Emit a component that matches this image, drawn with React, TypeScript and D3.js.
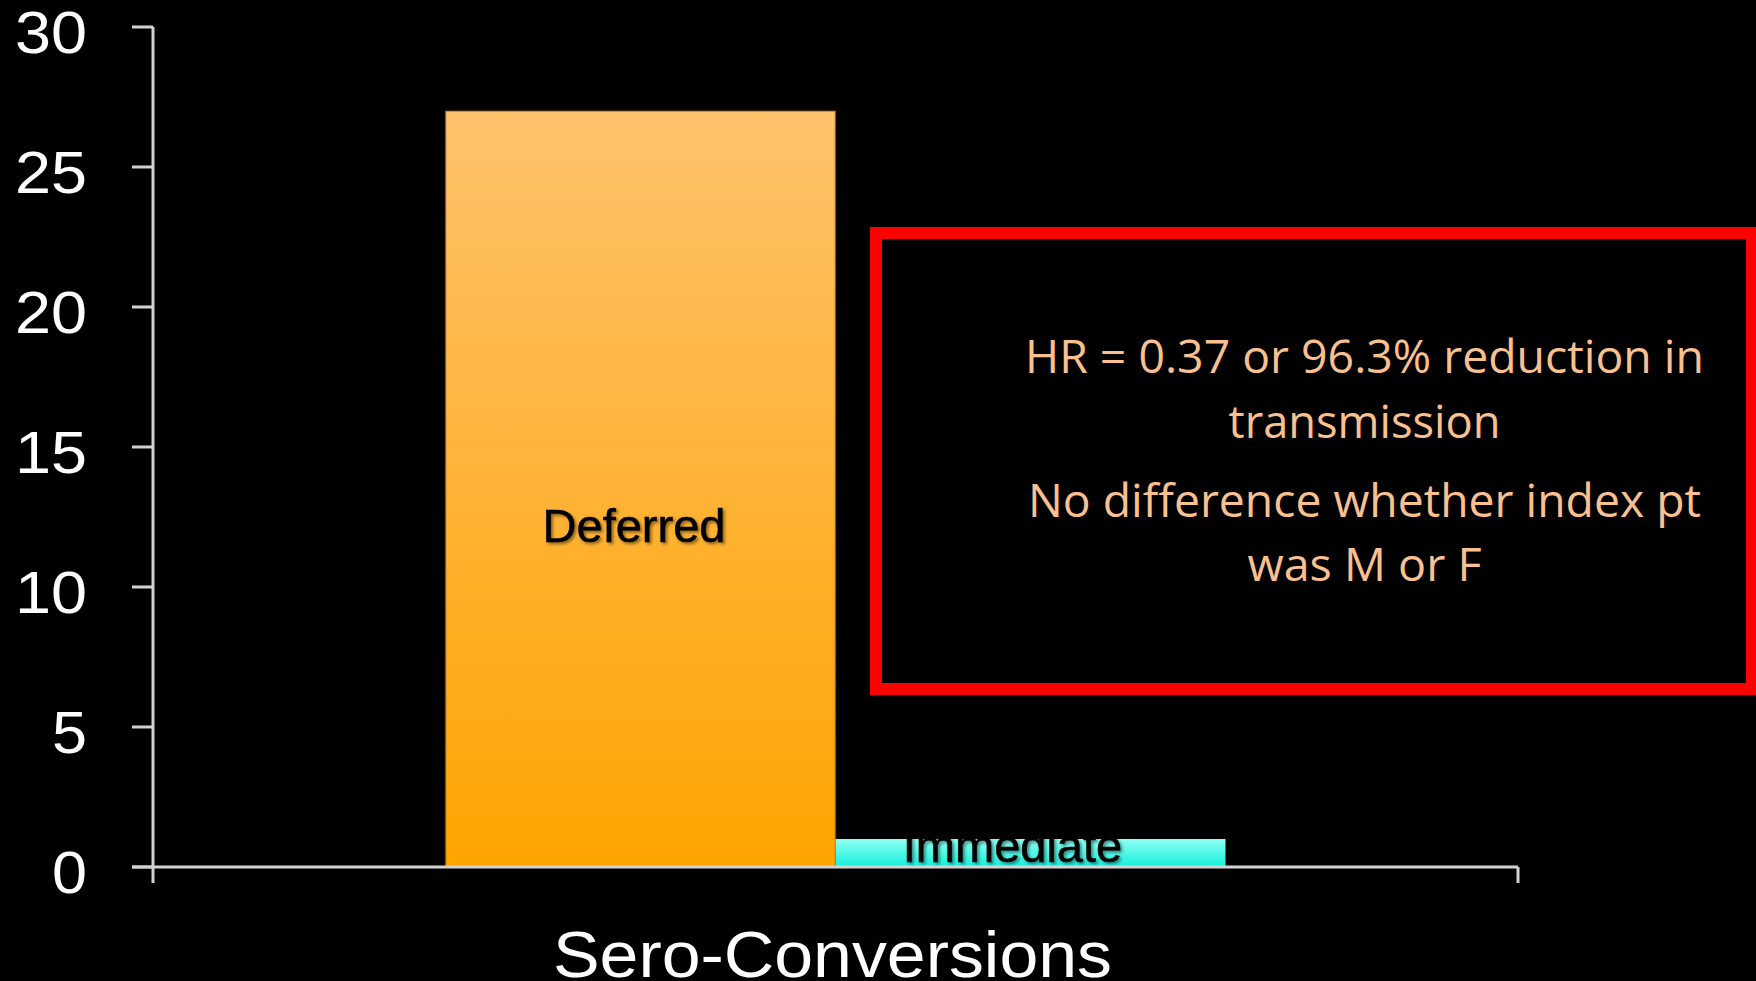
import React from "react";
import * as d3 from "d3";

const categories = ["Deferred", "Immediate"];
const seroConversions = [27, 1];
const yTicks = [0, 5, 10, 15, 20, 25, 30];
const axisTitle = "Sero-Conversions";
const noteLines = [
  "HR = 0.37 or 96.3% reduction in",
  "transmission",
  "No difference whether index pt",
  "was M or F",
];

const W = 1756;
const H = 981;

export default function App() {
  const y = d3.scaleLinear().domain([0, 30]).range([867, 27]);
  const x = d3
    .scaleBand<string>()
    .domain(categories)
    .range([153, 1518])
    .paddingInner(0)
    .paddingOuter(0.75);

  const gradIds = ["gradDeferred", "gradImmediate"];
  const gradStops = [
    ["#FEC26C", "#FFA400"],
    ["#8FFFF3", "#14F0DA"],
  ];
  // label placement (style)
  const labelDx = [-6.5, -18];
  const labelBaseVal = [11.6, 0.18];

  const noteBaselines = [373, 438, 517, 581];
  const noteWidths = [679, 272, 673, 234];

  return (
    <svg
      width={W}
      height={H}
      style={{ position: "absolute", left: 0, top: 0, display: "block", background: "#000" }}
    >
      <defs>
        {gradIds.map((id, i) => (
          <linearGradient key={id} id={id} x1="0" y1="0" x2="0" y2="1">
            <stop offset="0%" stopColor={gradStops[i][0]} />
            <stop offset="100%" stopColor={gradStops[i][1]} />
          </linearGradient>
        ))}
        {categories.map((c, i) => (
          <clipPath key={c} id={`clip${i}`}>
            <rect
              x={x(c)!}
              y={y(seroConversions[i])}
              width={x.bandwidth()}
              height={y(0) - y(seroConversions[i])}
            />
          </clipPath>
        ))}
        <filter id="shadow" x="-10%" y="-20%" width="120%" height="150%">
          <feDropShadow dx="2" dy="2" stdDeviation="1.5" floodColor="#000" floodOpacity="0.45" />
        </filter>
      </defs>
      <rect x={0} y={0} width={W} height={H} fill="#000" />

      {/* bars */}
      {categories.map((c, i) => (
        <g key={c}>
          <rect
            x={x(c)!}
            y={y(seroConversions[i])}
            width={x.bandwidth()}
            height={y(0) - y(seroConversions[i])}
            fill={`url(#${gradIds[i]})`}
            stroke="rgba(120,80,20,0.6)"
            strokeWidth={i === 0 ? 1.5 : 0}
          />
          <g clipPath={`url(#clip${i})`}>
            <text
              x={x(c)! + x.bandwidth() / 2 + labelDx[i]}
              y={y(labelBaseVal[i])}
              textAnchor="middle"
              fontFamily="Liberation Sans, Arial, sans-serif"
              fontSize={47}
              fill="#000"
              stroke="#000"
              strokeWidth={0.6}
              filter="url(#shadow)"
            >
              {c}
            </text>
          </g>
        </g>
      ))}

      {/* y axis */}
      <line x1={153} x2={153} y1={y(30)} y2={y(0) + 16} stroke="#D2D2D2" strokeWidth={3} />
      {yTicks.map((t) => (
        <g key={t}>
          <line x1={132} x2={153} y1={y(t)} y2={y(t)} stroke="#D2D2D2" strokeWidth={3} />
          <text
            x={87}
            y={y(t) + 25.5}
            textAnchor="end"
            fontFamily="Liberation Sans, Arial, sans-serif"
            fontSize={60}
            fill="#fff"
            textLength={t >= 10 ? 72 : 35}
            lengthAdjust="spacingAndGlyphs"
          >
            {t}
          </text>
        </g>
      ))}

      {/* x axis */}
      <line x1={132} x2={1518} y1={y(0)} y2={y(0)} stroke="#D2D2D2" strokeWidth={3} />
      <line x1={1518} x2={1518} y1={y(0)} y2={y(0) + 16} stroke="#D2D2D2" strokeWidth={3} />
      <text
        x={832.5}
        y={977}
        textAnchor="middle"
        fontFamily="Liberation Sans, Arial, sans-serif"
        fontSize={64}
        fill="#fff"
        textLength={559}
        lengthAdjust="spacingAndGlyphs"
      >
        {axisTitle}
      </text>

      {/* annotation box */}
      <rect x={876} y={233} width={876} height={456} fill="none" stroke="#FF0000" strokeWidth={12} />
      {noteLines.map((line, i) => (
        <text
          key={i}
          x={1364.5}
          y={noteBaselines[i]}
          textAnchor="middle"
          fontFamily="Open Sans, Noto Sans, sans-serif"
          fontSize={45}
          fill="#FAC090"
          textLength={noteWidths[i]}
          lengthAdjust="spacingAndGlyphs"
        >
          {line}
        </text>
      ))}
    </svg>
  );
}
